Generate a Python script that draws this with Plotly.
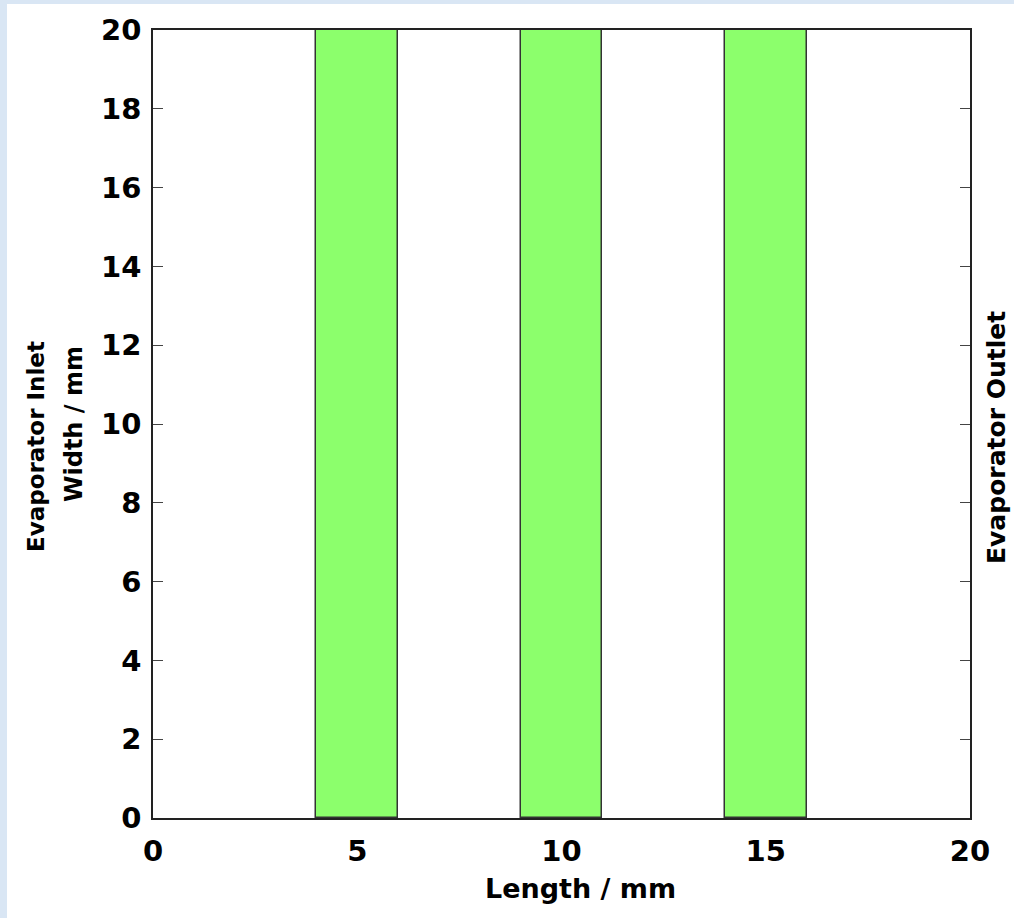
import plotly.graph_objects as go

# Data
channel_start = [4, 9, 14]      # mm
channel_end = [6, 11, 16]       # mm
channel_width_mm = [20, 20, 20] # extent along y (mm)
x_ticks = [0, 5, 10, 15, 20]
y_ticks = [0, 2, 4, 6, 8, 10, 12, 14, 16, 18, 20]

centers = [(a + b) / 2 for a, b in zip(channel_start, channel_end)]
widths = [b - a for a, b in zip(channel_start, channel_end)]

FONT = "DejaVu Sans"

fig = go.Figure()
fig.add_trace(go.Bar(
    x=centers, y=channel_width_mm, width=widths, base=0,
    marker=dict(color="#8cff6c", line=dict(color="#333333", width=1.5)),
    showlegend=False, hoverinfo="skip",
))

L, R, T, B = 153, 44, 30, 100
W, H = 1014, 918
pw, ph = W - L - R, H - T - B

def px(xpix):
    return (xpix - L) / pw

def py(ypix):
    return (H - B - ypix) / ph

fig.update_layout(
    width=W, height=H,
    margin=dict(l=L, r=R, t=T, b=B),
    paper_bgcolor="white", plot_bgcolor="white",
    bargap=0,
    xaxis=dict(
        range=[0, 20], tickvals=x_ticks, ticks="", showgrid=False, zeroline=False,
        showline=True, linecolor="#222222", linewidth=1.5, mirror=True,
        tickfont=dict(family=FONT, size=29, color="black", weight="bold"),
        ticklabelstandoff=6,
    ),
    yaxis=dict(
        range=[0, 20], tickvals=y_ticks, ticks="inside", ticklen=10, tickwidth=1.2,
        tickcolor="#444444", showgrid=False, zeroline=False,
        showline=True, linecolor="#222222", linewidth=1.5, mirror="ticks",
        tickfont=dict(family=FONT, size=29, color="black", weight="bold"),
        ticklabelstandoff=4,
    ),
    shapes=[
        dict(type="rect", xref="paper", yref="paper", layer="below",
             x0=px(0), x1=px(7), y0=py(H + 5), y1=py(-5),
             fillcolor="#d9e6f4", line=dict(width=0)),
        dict(type="rect", xref="paper", yref="paper", layer="below",
             x0=px(0), x1=px(W + 5), y0=py(4), y1=py(-5),
             fillcolor="#d9e6f4", line=dict(width=0)),
    ],
    annotations=[
        dict(text="<b>Length / mm</b>", xref="paper", yref="paper",
             x=px(580), y=py(888), xanchor="center", yanchor="middle",
             showarrow=False, font=dict(family=FONT, size=27, color="black")),
        dict(text="<b>Evaporator Inlet</b>", xref="paper", yref="paper",
             x=px(36), y=py(446), xanchor="center", yanchor="middle", textangle=-90,
             showarrow=False, font=dict(family=FONT, size=23, color="black")),
        dict(text="<b>Width / mm</b>", xref="paper", yref="paper",
             x=px(74), y=py(424), xanchor="center", yanchor="middle", textangle=-90,
             showarrow=False, font=dict(family=FONT, size=24, color="black")),
        dict(text="<b>Evaporator Outlet</b>", xref="paper", yref="paper",
             x=px(996), y=py(438), xanchor="center", yanchor="middle", textangle=-90,
             showarrow=False, font=dict(family=FONT, size=25, color="black")),
    ],
)

fig.write_html("out.html")
